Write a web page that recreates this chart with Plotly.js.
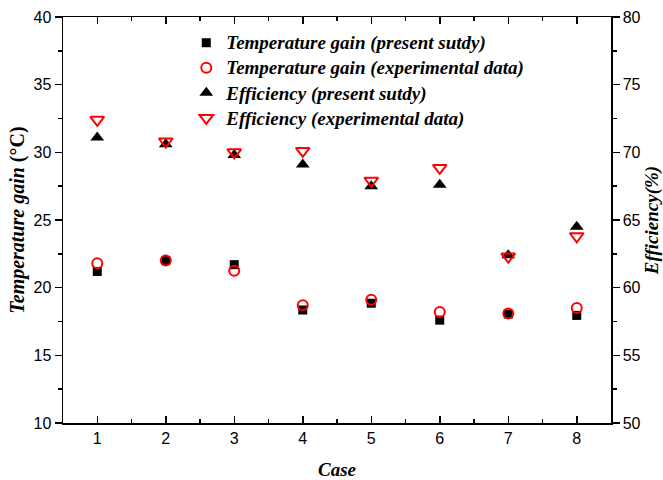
<!DOCTYPE html>
<html><head><meta charset="utf-8">
<script src="https://cdn.plot.ly/plotly-3.0.1.min.js"></script>
<style>html,body{margin:0;padding:0;background:#fff}</style>
</head><body><div id="chart" style="width:663px;height:480px"></div>
<script>
const cases = [1,2,3,4,5,6,7,8];
const tempPresent = [21.2, 22.0, 21.7, 18.35, 18.85, 17.6, 18.05, 17.95];
const tempExp     = [21.8, 22.0, 21.25, 18.7, 19.1, 18.2, 18.1, 18.5];
const effPresent  = [71.1, 70.6, 69.8, 69.1, 67.5, 67.6, 62.4, 64.5];
const effExp      = [72.4, 70.8, 70.0, 70.1, 67.9, 68.85, 62.3, 63.8];
const names = ['Temperature gain (present sutdy)','Temperature gain (experimental data)','Efficiency (present sutdy)','Efficiency (experimental data)'];
const lg = s => '<span style="font-size:19px">' + s + '</span>';

const traces = [
 {x:cases,y:tempPresent,name:lg(names[0]),mode:'markers',type:'scatter',marker:{symbol:'square',size:9,color:'#000'}},
 {x:cases,y:tempExp,name:lg(names[1]),mode:'markers',type:'scatter',marker:{symbol:'circle-open',size:10,color:'#ff0000',line:{width:2,color:'#ff0000'}}},
 {x:cases,y:effPresent,name:lg(names[2]),mode:'markers',type:'scatter',yaxis:'y2',marker:{symbol:'triangle-up',size:12,color:'#000'}},
 {x:cases,y:effExp,name:lg(names[3]),mode:'markers',type:'scatter',yaxis:'y2',marker:{symbol:'triangle-down-open',size:12,color:'#ff0000',line:{width:2,color:'#ff0000'}}}
];
const tickFont = {family:'Liberation Sans, Arial, sans-serif',size:16,color:'#000'};
const titleFont = {family:'Liberation Serif, Times New Roman, serif',size:19,color:'#000',weight:'bold',style:'italic'};
const layout = {
 width:663,height:480,
 margin:{l:63,r:52,t:17,b:57},
 paper_bgcolor:'#fff',plot_bgcolor:'#fff',
 showlegend:true,
 legend:{x:0.225,y:0.98,xanchor:'left',yanchor:'top',bgcolor:'rgba(0,0,0,0)',
   font:{family:'Liberation Serif, Times New Roman, serif',size:17,color:'#000',weight:'bold',style:'italic'},
   tracegroupgap:0,itemwidth:30},
 xaxis:{range:[0.5,8.5],tickvals:cases,ticks:'inside',ticklen:7,tickwidth:1.5,tickcolor:'#000',
   showline:true,linewidth:1.5,linecolor:'#000',mirror:'ticks',showgrid:false,zeroline:false,
   minor:{dtick:0.5,tick0:0.5,ticks:'inside',ticklen:4,tickwidth:1.5,tickcolor:'#000',showgrid:false},
   tickfont:tickFont,title:{text:'Case',font:titleFont,standoff:18}},
 yaxis:{range:[10,40],dtick:5,ticks:'outside',ticklen:7,tickwidth:1.5,tickcolor:'#000',
   showline:true,linewidth:1.5,linecolor:'#000',showgrid:false,zeroline:false,
   minor:{dtick:2.5,ticks:'outside',ticklen:4,tickwidth:1.5,tickcolor:'#000',showgrid:false},
   tickfont:tickFont,title:{text:'Temperature gain <span style="font-style:normal">(°C)</span>',font:Object.assign({},titleFont,{size:20}),standoff:3}},
 yaxis2:{range:[50,80],dtick:5,overlaying:'y',side:'right',ticks:'outside',ticklen:7,tickwidth:1.5,tickcolor:'#000',
   showline:true,linewidth:1.5,linecolor:'#000',showgrid:false,zeroline:false,
   minor:{dtick:2.5,ticks:'outside',ticklen:4,tickwidth:1.5,tickcolor:'#000',showgrid:false},
   tickfont:tickFont,title:{text:'Efficiency(%)',font:titleFont,standoff:10}}
};
Plotly.newPlot('chart',traces,layout,{displayModeBar:false,staticPlot:true});
</script></body></html>
